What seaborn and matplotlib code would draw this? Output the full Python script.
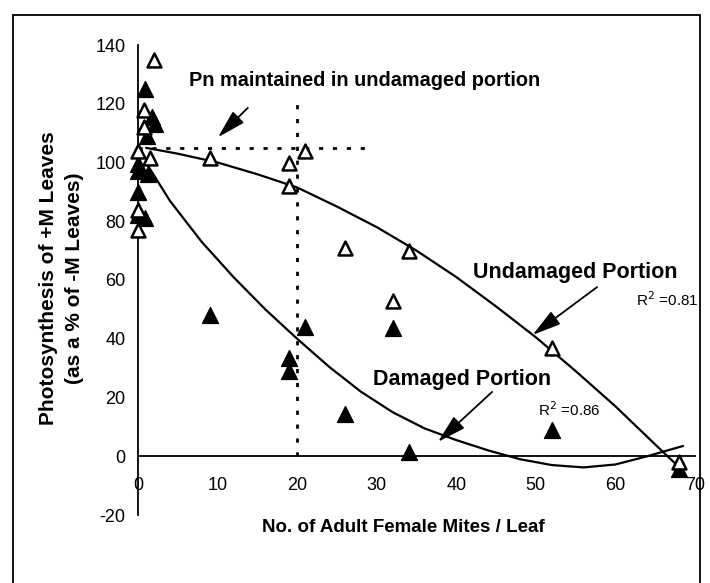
import matplotlib
matplotlib.use("Agg")
import matplotlib.pyplot as plt
import seaborn as sns
import pandas as pd
from matplotlib.patches import Rectangle

# valores lidos do grafico original
# porcao nao danificada (triangulos abertos)
und_x = [2, 0.7, 0.7, 0, 1.5, 0, 0, 9, 19, 19, 21, 26, 32, 34, 52, 68]
und_y = [135, 118, 112, 104, 101.5, 84, 77, 101.5, 100, 92, 104, 71, 53, 70, 37, -2]
# porcao danificada (triangulos cheios)
dam_x = [0.9, 1.8, 2.1, 1.1, 0, 0, 1.3, 0, 0, 0.9, 9, 19, 19, 21, 26, 32, 34, 52, 68]
dam_y = [125, 115.5, 113, 109, 99.5, 97, 96, 90, 82, 81, 48, 33.5, 29, 44, 14.5, 43.5, 1.4, 9, -4.5]

# linhas de tendencia
und_fit_x = [1, 5, 10, 15, 20, 25, 30, 35, 40, 45, 50, 55, 60, 65, 68.5]
und_fit_y = [105, 103, 100, 96, 91.5, 85, 78, 70, 61, 51, 40.5, 29, 17, 4, -5]
dam_fit_x = [1, 4, 8, 12, 16, 20, 24, 28, 32, 36, 40, 44, 48, 52, 56, 60, 64, 68.5]
dam_fit_y = [100, 87, 73, 61, 50, 40, 30.5, 22, 15, 9.5, 5.5, 2, -1, -3, -3.8, -2.8, 0, 3.5]

x_ticks = [0, 10, 20, 30, 40, 50, 60, 70]
y_ticks = [-20, 0, 20, 40, 60, 80, 100, 120, 140]

sns.set_style("white")
plt.rcParams["font.family"] = ["Liberation Sans", "DejaVu Sans"]
plt.rcParams["text.color"] = "black"
plt.rcParams["axes.unicode_minus"] = False

fig = plt.figure(figsize=(7.1, 5.83), dpi=100)
ax = fig.add_axes([138 / 710, 1 - 515 / 583, 557 / 710, 470 / 583])

df_und = pd.DataFrame({"x": und_x, "y": und_y})
df_dam = pd.DataFrame({"x": dam_x, "y": dam_y})

# linhas tracejadas de referencia
ax.plot([0, 28.5], [105, 105], color="black", lw=2, linestyle=(0, (1.5, 3.5)), zorder=1)
ax.plot([20, 20], [0, 122], color="black", lw=2, linestyle=(0, (1.5, 3.5)), zorder=1)

sns.lineplot(x=und_fit_x, y=und_fit_y, sort=False, color="black", lw=1.6, ax=ax, zorder=2)
sns.lineplot(x=dam_fit_x, y=dam_fit_y, sort=False, color="black", lw=1.6, ax=ax, zorder=2)

sns.scatterplot(data=df_dam, x="x", y="y", marker="^", s=130, color="black",
                edgecolor="black", linewidth=1, ax=ax, clip_on=False, zorder=3)
sns.scatterplot(data=df_und, x="x", y="y", marker="^", s=100, facecolor="white",
                edgecolor="black", linewidth=1.8, ax=ax, clip_on=False, zorder=4)

ax.set_xlim(0, 70)
ax.set_ylim(-20, 140)
ax.set_xticks(x_ticks)
ax.set_yticks(y_ticks)
ax.spines["bottom"].set_position(("data", 0))
ax.spines["top"].set_visible(False)
ax.spines["right"].set_visible(False)
for s in ["left", "bottom"]:
    ax.spines[s].set_color("black")
    ax.spines[s].set_linewidth(1.3)
ax.tick_params(axis="both", direction="inout", length=10, width=1.2, labelsize=13,
               colors="black", labelcolor="black")
ax.tick_params(axis="y", pad=4)
ax.tick_params(axis="x", pad=10)
ax.set_xlabel("")
ax.set_ylabel("")

fig.text(403 / 710, 1 - 528 / 583, "No. of Adult Female Mites / Leaf", ha="center", va="center",
         fontsize=13.5, fontweight="bold")
fig.text(49 / 710, 1 - 278 / 583, "Photosynthesis of +M Leaves", rotation=90, ha="center",
         va="center", fontsize=15, fontweight="bold")
fig.text(75 / 710, 1 - 278 / 583, "(as a % of -M Leaves)", rotation=90, ha="center",
         va="center", fontsize=15, fontweight="bold")

# anotacoes
seta = dict(arrowstyle="-|>,head_length=0.8,head_width=0.22", color="black", lw=1.3,
            mutation_scale=22, shrinkA=0, shrinkB=0)
ax.text(6.4, 128, "Pn maintained in undamaged portion", ha="left", va="center",
        fontsize=14.3, fontweight="bold")
ax.annotate("", xy=(10.05, 108.6), xytext=(13.8, 118.6), arrowprops=seta)
ax.text(54.9, 62.4, "Undamaged Portion", ha="center", va="center", fontsize=15.5, fontweight="bold")
ax.annotate("", xy=(49.6, 41.3), xytext=(57.7, 57.6), arrowprops=seta)
ax.text(66.5, 53.2, "R$^2$ =0.81", ha="center", va="center", fontsize=11)
ax.text(40.7, 26, "Damaged Portion", ha="center", va="center", fontsize=15.5, fontweight="bold")
ax.annotate("", xy=(37.7, 4.9), xytext=(44.5, 21.9), arrowprops=seta)
ax.text(54.2, 15.7, "R$^2$ =0.86", ha="center", va="center", fontsize=11)

# moldura em volta da figura
fig.patches.append(Rectangle((13 / 710, -0.05), 687 / 710, 1.05 - 15 / 583, transform=fig.transFigure,
                             fill=False, edgecolor="black", lw=1.3))

fig.savefig("out.png", dpi=100)
